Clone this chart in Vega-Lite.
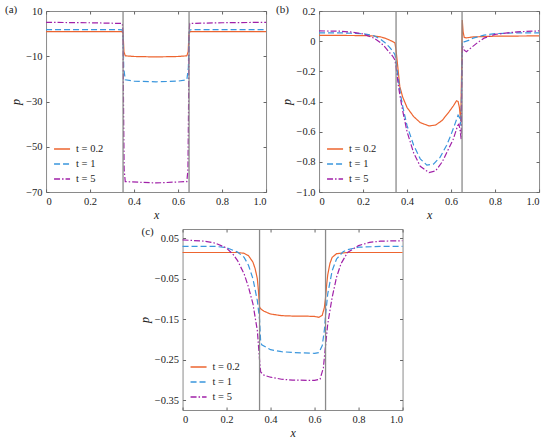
{
  "$schema": "https://vega.github.io/schema/vega-lite/v6.json",
  "padding": {"left": 4, "top": 3, "right": 0, "bottom": 0},
  "spacing": 4,
  "center": true,
  "resolve": {"scale": {"color": "independent", "strokeDash": "independent"}, "legend": {"color": "independent", "strokeDash": "independent"}},
  "datasets": {
    "a": [
      {"x": 0, "p": 0.9, "t": "t = 0.2"}, {"x": 0.3, "p": 0.9, "t": "t = 0.2"}, {"x": 0.345, "p": 0.85, "t": "t = 0.2"},
      {"x": 0.35, "p": 0.3, "t": "t = 0.2"}, {"x": 0.354, "p": -8, "t": "t = 0.2"}, {"x": 0.36, "p": -9.8, "t": "t = 0.2"},
      {"x": 0.4, "p": -10.1, "t": "t = 0.2"}, {"x": 0.5, "p": -10.3, "t": "t = 0.2"}, {"x": 0.6, "p": -10.1, "t": "t = 0.2"},
      {"x": 0.64, "p": -9.8, "t": "t = 0.2"}, {"x": 0.646, "p": -8, "t": "t = 0.2"}, {"x": 0.65, "p": 0.3, "t": "t = 0.2"},
      {"x": 0.655, "p": 0.85, "t": "t = 0.2"}, {"x": 0.7, "p": 0.9, "t": "t = 0.2"}, {"x": 1, "p": 0.9, "t": "t = 0.2"},

      {"x": 0, "p": 1.8, "t": "t = 1"}, {"x": 0.3, "p": 1.8, "t": "t = 1"}, {"x": 0.346, "p": 1.7, "t": "t = 1"},
      {"x": 0.35, "p": 0, "t": "t = 1"}, {"x": 0.353, "p": -15, "t": "t = 1"}, {"x": 0.36, "p": -20.4, "t": "t = 1"},
      {"x": 0.4, "p": -21, "t": "t = 1"}, {"x": 0.5, "p": -21.3, "t": "t = 1"}, {"x": 0.6, "p": -21, "t": "t = 1"},
      {"x": 0.64, "p": -20.4, "t": "t = 1"}, {"x": 0.647, "p": -15, "t": "t = 1"}, {"x": 0.65, "p": 0, "t": "t = 1"},
      {"x": 0.654, "p": 1.7, "t": "t = 1"}, {"x": 0.7, "p": 1.8, "t": "t = 1"}, {"x": 1, "p": 1.8, "t": "t = 1"},

      {"x": 0, "p": 5, "t": "t = 5"}, {"x": 0.2, "p": 4.8, "t": "t = 5"}, {"x": 0.347, "p": 4.5, "t": "t = 5"},
      {"x": 0.35, "p": 0, "t": "t = 5"}, {"x": 0.352, "p": -30, "t": "t = 5"}, {"x": 0.355, "p": -60, "t": "t = 5"},
      {"x": 0.36, "p": -65.4, "t": "t = 5"}, {"x": 0.5, "p": -66, "t": "t = 5"}, {"x": 0.64, "p": -65.4, "t": "t = 5"},
      {"x": 0.645, "p": -60, "t": "t = 5"}, {"x": 0.648, "p": -30, "t": "t = 5"}, {"x": 0.65, "p": 0, "t": "t = 5"},
      {"x": 0.653, "p": 4.5, "t": "t = 5"}, {"x": 0.8, "p": 4.8, "t": "t = 5"}, {"x": 1, "p": 5, "t": "t = 5"}
    ],
    "b": [
      {"x": 0, "p": 0.038, "t": "t = 0.2"}, {"x": 0.1, "p": 0.038, "t": "t = 0.2"}, {"x": 0.2, "p": 0.037, "t": "t = 0.2"},
      {"x": 0.25, "p": 0.034, "t": "t = 0.2"}, {"x": 0.28, "p": 0.028, "t": "t = 0.2"}, {"x": 0.3, "p": 0.02, "t": "t = 0.2"},
      {"x": 0.32, "p": 0.008, "t": "t = 0.2"}, {"x": 0.335, "p": -0.003, "t": "t = 0.2"}, {"x": 0.345, "p": -0.012, "t": "t = 0.2"},
      {"x": 0.35, "p": -0.06, "t": "t = 0.2"}, {"x": 0.355, "p": -0.13, "t": "t = 0.2"}, {"x": 0.36, "p": -0.2, "t": "t = 0.2"},
      {"x": 0.367, "p": -0.3, "t": "t = 0.2"}, {"x": 0.38, "p": -0.37, "t": "t = 0.2"}, {"x": 0.4, "p": -0.44, "t": "t = 0.2"},
      {"x": 0.43, "p": -0.5, "t": "t = 0.2"}, {"x": 0.46, "p": -0.54, "t": "t = 0.2"}, {"x": 0.5, "p": -0.562, "t": "t = 0.2"},
      {"x": 0.53, "p": -0.556, "t": "t = 0.2"}, {"x": 0.56, "p": -0.525, "t": "t = 0.2"}, {"x": 0.59, "p": -0.47, "t": "t = 0.2"},
      {"x": 0.61, "p": -0.43, "t": "t = 0.2"}, {"x": 0.625, "p": -0.395, "t": "t = 0.2"}, {"x": 0.632, "p": -0.4, "t": "t = 0.2"},
      {"x": 0.638, "p": -0.44, "t": "t = 0.2"}, {"x": 0.644, "p": -0.53, "t": "t = 0.2"}, {"x": 0.648, "p": -0.2, "t": "t = 0.2"},
      {"x": 0.651, "p": 0.14, "t": "t = 0.2"}, {"x": 0.655, "p": 0.06, "t": "t = 0.2"}, {"x": 0.66, "p": 0.025, "t": "t = 0.2"},
      {"x": 0.67, "p": 0.022, "t": "t = 0.2"}, {"x": 0.7, "p": 0.028, "t": "t = 0.2"}, {"x": 0.8, "p": 0.033, "t": "t = 0.2"},
      {"x": 1, "p": 0.035, "t": "t = 0.2"},

      {"x": 0, "p": 0.055, "t": "t = 1"}, {"x": 0.1, "p": 0.055, "t": "t = 1"}, {"x": 0.2, "p": 0.05, "t": "t = 1"},
      {"x": 0.25, "p": 0.036, "t": "t = 1"}, {"x": 0.28, "p": 0.012, "t": "t = 1"}, {"x": 0.3, "p": -0.01, "t": "t = 1"},
      {"x": 0.32, "p": -0.04, "t": "t = 1"}, {"x": 0.335, "p": -0.065, "t": "t = 1"}, {"x": 0.345, "p": -0.09, "t": "t = 1"},
      {"x": 0.35, "p": -0.13, "t": "t = 1"}, {"x": 0.355, "p": -0.19, "t": "t = 1"}, {"x": 0.36, "p": -0.25, "t": "t = 1"},
      {"x": 0.37, "p": -0.35, "t": "t = 1"}, {"x": 0.38, "p": -0.43, "t": "t = 1"}, {"x": 0.4, "p": -0.56, "t": "t = 1"},
      {"x": 0.43, "p": -0.69, "t": "t = 1"}, {"x": 0.46, "p": -0.78, "t": "t = 1"}, {"x": 0.49, "p": -0.822, "t": "t = 1"},
      {"x": 0.52, "p": -0.815, "t": "t = 1"}, {"x": 0.55, "p": -0.77, "t": "t = 1"}, {"x": 0.58, "p": -0.69, "t": "t = 1"},
      {"x": 0.6, "p": -0.62, "t": "t = 1"}, {"x": 0.62, "p": -0.54, "t": "t = 1"}, {"x": 0.632, "p": -0.49, "t": "t = 1"},
      {"x": 0.64, "p": -0.51, "t": "t = 1"}, {"x": 0.645, "p": -0.56, "t": "t = 1"}, {"x": 0.648, "p": -0.3, "t": "t = 1"},
      {"x": 0.651, "p": 0.0, "t": "t = 1"}, {"x": 0.66, "p": -0.005, "t": "t = 1"}, {"x": 0.68, "p": 0.005, "t": "t = 1"},
      {"x": 0.7, "p": 0.02, "t": "t = 1"}, {"x": 0.75, "p": 0.04, "t": "t = 1"}, {"x": 0.8, "p": 0.05, "t": "t = 1"},
      {"x": 0.9, "p": 0.055, "t": "t = 1"}, {"x": 1, "p": 0.055, "t": "t = 1"},

      {"x": 0, "p": 0.068, "t": "t = 5"}, {"x": 0.1, "p": 0.066, "t": "t = 5"}, {"x": 0.15, "p": 0.06, "t": "t = 5"},
      {"x": 0.2, "p": 0.048, "t": "t = 5"}, {"x": 0.25, "p": 0.02, "t": "t = 5"}, {"x": 0.28, "p": -0.01, "t": "t = 5"},
      {"x": 0.3, "p": -0.04, "t": "t = 5"}, {"x": 0.32, "p": -0.075, "t": "t = 5"}, {"x": 0.335, "p": -0.1, "t": "t = 5"},
      {"x": 0.345, "p": -0.125, "t": "t = 5"}, {"x": 0.35, "p": -0.17, "t": "t = 5"}, {"x": 0.355, "p": -0.23, "t": "t = 5"},
      {"x": 0.36, "p": -0.29, "t": "t = 5"}, {"x": 0.37, "p": -0.38, "t": "t = 5"}, {"x": 0.38, "p": -0.46, "t": "t = 5"},
      {"x": 0.4, "p": -0.6, "t": "t = 5"}, {"x": 0.43, "p": -0.74, "t": "t = 5"}, {"x": 0.46, "p": -0.83, "t": "t = 5"},
      {"x": 0.5, "p": -0.872, "t": "t = 5"}, {"x": 0.53, "p": -0.86, "t": "t = 5"}, {"x": 0.56, "p": -0.8, "t": "t = 5"},
      {"x": 0.59, "p": -0.71, "t": "t = 5"}, {"x": 0.61, "p": -0.65, "t": "t = 5"}, {"x": 0.63, "p": -0.56, "t": "t = 5"},
      {"x": 0.636, "p": -0.55, "t": "t = 5"}, {"x": 0.642, "p": -0.6, "t": "t = 5"}, {"x": 0.646, "p": -0.65, "t": "t = 5"},
      {"x": 0.649, "p": -0.3, "t": "t = 5"}, {"x": 0.652, "p": -0.03, "t": "t = 5"}, {"x": 0.66, "p": -0.06, "t": "t = 5"},
      {"x": 0.67, "p": -0.07, "t": "t = 5"}, {"x": 0.69, "p": -0.045, "t": "t = 5"}, {"x": 0.72, "p": -0.01, "t": "t = 5"},
      {"x": 0.75, "p": 0.02, "t": "t = 5"}, {"x": 0.8, "p": 0.045, "t": "t = 5"}, {"x": 0.9, "p": 0.062, "t": "t = 5"},
      {"x": 1, "p": 0.068, "t": "t = 5"}
    ],
    "c": [
      {"x": 0, "p": 0.015, "t": "t = 0.2"}, {"x": 0.25, "p": 0.015, "t": "t = 0.2"}, {"x": 0.28, "p": 0.013, "t": "t = 0.2"},
      {"x": 0.3, "p": 0.007, "t": "t = 0.2"}, {"x": 0.32, "p": -0.009, "t": "t = 0.2"}, {"x": 0.33, "p": -0.025, "t": "t = 0.2"},
      {"x": 0.34, "p": -0.05, "t": "t = 0.2"}, {"x": 0.345, "p": -0.08, "t": "t = 0.2"}, {"x": 0.35, "p": -0.12, "t": "t = 0.2"},
      {"x": 0.355, "p": -0.124, "t": "t = 0.2"}, {"x": 0.37, "p": -0.13, "t": "t = 0.2"}, {"x": 0.4, "p": -0.137, "t": "t = 0.2"},
      {"x": 0.45, "p": -0.141, "t": "t = 0.2"}, {"x": 0.5, "p": -0.142, "t": "t = 0.2"}, {"x": 0.55, "p": -0.142, "t": "t = 0.2"},
      {"x": 0.6, "p": -0.143, "t": "t = 0.2"}, {"x": 0.62, "p": -0.145, "t": "t = 0.2"}, {"x": 0.635, "p": -0.14, "t": "t = 0.2"},
      {"x": 0.645, "p": -0.12, "t": "t = 0.2"}, {"x": 0.65, "p": -0.096, "t": "t = 0.2"}, {"x": 0.655, "p": -0.065, "t": "t = 0.2"},
      {"x": 0.66, "p": -0.04, "t": "t = 0.2"}, {"x": 0.67, "p": -0.012, "t": "t = 0.2"}, {"x": 0.68, "p": 0.003, "t": "t = 0.2"},
      {"x": 0.7, "p": 0.012, "t": "t = 0.2"}, {"x": 0.75, "p": 0.015, "t": "t = 0.2"}, {"x": 1, "p": 0.015, "t": "t = 0.2"},

      {"x": 0, "p": 0.03, "t": "t = 1"}, {"x": 0.15, "p": 0.03, "t": "t = 1"}, {"x": 0.2, "p": 0.027, "t": "t = 1"},
      {"x": 0.25, "p": 0.016, "t": "t = 1"}, {"x": 0.28, "p": 0.003, "t": "t = 1"}, {"x": 0.3, "p": -0.017, "t": "t = 1"},
      {"x": 0.32, "p": -0.05, "t": "t = 1"}, {"x": 0.34, "p": -0.104, "t": "t = 1"}, {"x": 0.35, "p": -0.15, "t": "t = 1"},
      {"x": 0.355, "p": -0.205, "t": "t = 1"}, {"x": 0.36, "p": -0.213, "t": "t = 1"}, {"x": 0.4, "p": -0.225, "t": "t = 1"},
      {"x": 0.45, "p": -0.23, "t": "t = 1"}, {"x": 0.5, "p": -0.232, "t": "t = 1"}, {"x": 0.55, "p": -0.233, "t": "t = 1"},
      {"x": 0.6, "p": -0.234, "t": "t = 1"}, {"x": 0.62, "p": -0.232, "t": "t = 1"}, {"x": 0.635, "p": -0.215, "t": "t = 1"},
      {"x": 0.645, "p": -0.175, "t": "t = 1"}, {"x": 0.65, "p": -0.14, "t": "t = 1"}, {"x": 0.66, "p": -0.087, "t": "t = 1"},
      {"x": 0.68, "p": -0.03, "t": "t = 1"}, {"x": 0.7, "p": -0.001, "t": "t = 1"}, {"x": 0.73, "p": 0.017, "t": "t = 1"},
      {"x": 0.75, "p": 0.022, "t": "t = 1"}, {"x": 0.8, "p": 0.028, "t": "t = 1"}, {"x": 0.9, "p": 0.03, "t": "t = 1"},
      {"x": 1, "p": 0.03, "t": "t = 1"},

      {"x": 0, "p": 0.046, "t": "t = 5"}, {"x": 0.1, "p": 0.043, "t": "t = 5"}, {"x": 0.15, "p": 0.038, "t": "t = 5"},
      {"x": 0.2, "p": 0.026, "t": "t = 5"}, {"x": 0.23, "p": 0.01, "t": "t = 5"}, {"x": 0.25, "p": -0.005, "t": "t = 5"},
      {"x": 0.28, "p": -0.038, "t": "t = 5"}, {"x": 0.3, "p": -0.071, "t": "t = 5"}, {"x": 0.32, "p": -0.112, "t": "t = 5"},
      {"x": 0.34, "p": -0.178, "t": "t = 5"}, {"x": 0.35, "p": -0.25, "t": "t = 5"}, {"x": 0.355, "p": -0.28, "t": "t = 5"},
      {"x": 0.37, "p": -0.288, "t": "t = 5"}, {"x": 0.4, "p": -0.293, "t": "t = 5"}, {"x": 0.45, "p": -0.298, "t": "t = 5"},
      {"x": 0.5, "p": -0.3, "t": "t = 5"}, {"x": 0.6, "p": -0.301, "t": "t = 5"}, {"x": 0.625, "p": -0.298, "t": "t = 5"},
      {"x": 0.64, "p": -0.27, "t": "t = 5"}, {"x": 0.65, "p": -0.215, "t": "t = 5"}, {"x": 0.66, "p": -0.161, "t": "t = 5"},
      {"x": 0.68, "p": -0.096, "t": "t = 5"}, {"x": 0.7, "p": -0.046, "t": "t = 5"}, {"x": 0.72, "p": -0.013, "t": "t = 5"},
      {"x": 0.75, "p": 0.015, "t": "t = 5"}, {"x": 0.8, "p": 0.032, "t": "t = 5"}, {"x": 0.85, "p": 0.04, "t": "t = 5"},
      {"x": 0.9, "p": 0.043, "t": "t = 5"}, {"x": 1, "p": 0.044, "t": "t = 5"}
    ]
  },
  "vconcat": [
    {
      "spacing": 6,
      "resolve": {"scale": {"color": "independent", "strokeDash": "independent"}, "legend": {"color": "independent", "strokeDash": "independent"}},
      "hconcat": [
        {
          "width": 220,
          "height": 181,
          "title": {"text": "(a)", "anchor": "start", "frame": "group", "dx": -41, "dy": 15, "baseline": "middle", "offset": 0},
          "layer": [
            {
              "data": {"name": "a"},
              "mark": {"type": "line", "strokeWidth": 1.2},
              "encoding": {
                "x": {"field": "x", "type": "quantitative", "title": "x", "scale": {"domain": [0, 1], "nice": false},
                      "axis": {"orient": "bottom", "values": [0, 0.2, 0.4, 0.6, 0.8, 1], "labelExpr": "datum.value == 0 ? '0' : format(datum.value, '.1f')"}},
                "y": {"field": "p", "type": "quantitative", "title": "p", "scale": {"domain": [-70, 10], "nice": false, "zero": false},
                      "axis": {"orient": "left", "values": [10, -10, -30, -50, -70]}},
                "color": {"field": "t", "type": "nominal", "scale": {"domain": ["t = 0.2", "t = 1", "t = 5"], "range": ["#ED6530", "#3A96DD", "#A020A8"]}, "legend": {"title": null}},
                "strokeDash": {"field": "t", "type": "nominal", "scale": {"domain": ["t = 0.2", "t = 1", "t = 5"], "range": [[1, 0], [6, 3], [6, 2, 1.5, 2]]}, "legend": {"title": null}}
              }
            },
            {
              "data": {"values": [{"xv": 0.35, "lo": -70, "hi": 10}, {"xv": 0.65, "lo": -70, "hi": 10}]},
              "mark": {"type": "rule", "color": "#8a8a8a", "strokeWidth": 1.3},
              "encoding": {
                "x": {"field": "xv", "type": "quantitative", "axis": {"orient": "top", "labels": false, "title": null, "values": [0, 0.2, 0.4, 0.6, 0.8, 1]}},
                "y": {"field": "lo", "type": "quantitative", "axis": {"orient": "right", "labels": false, "title": null, "values": [10, -10, -30, -50, -70]}},
                "y2": {"field": "hi"}
              }
            }
          ],
          "resolve": {"axis": {"x": "independent", "y": "independent"}}
        },
        {
          "width": 220,
          "height": 181,
          "title": {"text": "(b)", "anchor": "start", "frame": "group", "dx": -43, "dy": 15, "baseline": "middle", "offset": 0},
          "layer": [
            {
              "data": {"name": "b"},
              "mark": {"type": "line", "strokeWidth": 1.2},
              "encoding": {
                "x": {"field": "x", "type": "quantitative", "title": "x", "scale": {"domain": [0, 1], "nice": false},
                      "axis": {"orient": "bottom", "values": [0, 0.2, 0.4, 0.6, 0.8, 1], "labelExpr": "datum.value == 0 ? '0' : format(datum.value, '.1f')"}},
                "y": {"field": "p", "type": "quantitative", "title": "p", "scale": {"domain": [-1, 0.2], "nice": false, "zero": false},
                      "axis": {"orient": "left", "values": [0.2, 0, -0.2, -0.4, -0.6, -0.8, -1], "labelExpr": "datum.value == 0 ? '0' : format(datum.value, '.1f')"}},
                "color": {"field": "t", "type": "nominal", "scale": {"domain": ["t = 0.2", "t = 1", "t = 5"], "range": ["#ED6530", "#3A96DD", "#A020A8"]}, "legend": {"title": null}},
                "strokeDash": {"field": "t", "type": "nominal", "scale": {"domain": ["t = 0.2", "t = 1", "t = 5"], "range": [[1, 0], [6, 3], [6, 2, 1.5, 2]]}, "legend": {"title": null}}
              }
            },
            {
              "data": {"values": [{"xv": 0.35, "lo": -1, "hi": 0.2}, {"xv": 0.65, "lo": -1, "hi": 0.2}]},
              "mark": {"type": "rule", "color": "#8a8a8a", "strokeWidth": 1.3},
              "encoding": {
                "x": {"field": "xv", "type": "quantitative", "axis": {"orient": "top", "labels": false, "title": null, "values": [0, 0.2, 0.4, 0.6, 0.8, 1]}},
                "y": {"field": "lo", "type": "quantitative", "axis": {"orient": "right", "labels": false, "title": null, "values": [0.2, 0, -0.2, -0.4, -0.6, -0.8, -1]}},
                "y2": {"field": "hi"}
              }
            }
          ],
          "resolve": {"axis": {"x": "independent", "y": "independent"}}
        }
      ]
    },
    {
      "width": 220,
      "height": 181,
      "title": {"text": "(c)", "anchor": "start", "frame": "group", "dx": -41, "dy": 15, "baseline": "middle", "offset": 0},
      "layer": [
        {
          "data": {"name": "c"},
          "mark": {"type": "line", "strokeWidth": 1.2},
          "encoding": {
            "x": {"field": "x", "type": "quantitative", "title": "x", "scale": {"domain": [0, 1], "nice": false},
                  "axis": {"orient": "bottom", "values": [0, 0.2, 0.4, 0.6, 0.8, 1], "labelExpr": "datum.value == 0 ? '0' : format(datum.value, '.1f')"}},
            "y": {"field": "p", "type": "quantitative", "title": "p", "scale": {"domain": [-0.374, 0.073], "nice": false, "zero": false},
                  "axis": {"orient": "left", "values": [0.05, -0.05, -0.15, -0.25, -0.35], "format": ".2f"}},
            "color": {"field": "t", "type": "nominal", "scale": {"domain": ["t = 0.2", "t = 1", "t = 5"], "range": ["#ED6530", "#3A96DD", "#A020A8"]}, "legend": {"title": null}},
            "strokeDash": {"field": "t", "type": "nominal", "scale": {"domain": ["t = 0.2", "t = 1", "t = 5"], "range": [[1, 0], [6, 3], [6, 2, 1.5, 2]]}, "legend": {"title": null}}
          }
        },
        {
          "data": {"values": [{"xv": 0.35, "lo": -0.374, "hi": 0.073}, {"xv": 0.65, "lo": -0.374, "hi": 0.073}]},
          "mark": {"type": "rule", "color": "#8a8a8a", "strokeWidth": 1.3},
          "encoding": {
            "x": {"field": "xv", "type": "quantitative", "axis": {"orient": "top", "labels": false, "title": null, "values": [0, 0.2, 0.4, 0.6, 0.8, 1]}},
            "y": {"field": "lo", "type": "quantitative", "axis": {"orient": "right", "labels": false, "title": null, "values": [0.05, -0.05, -0.15, -0.25, -0.35]}},
            "y2": {"field": "hi"}
          }
        }
      ],
      "resolve": {"axis": {"x": "independent", "y": "independent"}}
    }
  ],
  "config": {
    "font": "Liberation Serif",
    "view": {"stroke": "#8a8a8a", "strokeWidth": 1},
    "title": {"font": "Liberation Serif", "fontSize": 11, "fontWeight": "normal", "color": "#222"},
    "axis": {
      "domain": false,
      "grid": false,
      "ticks": true,
      "tickSize": -3,
      "tickColor": "#666",
      "labelPadding": 7,
      "labelFont": "Liberation Serif",
      "labelFontSize": 10.5,
      "labelColor": "#222",
      "titleFont": "Liberation Serif",
      "titleFontSize": 12,
      "titleFontStyle": "italic",
      "titleFontWeight": "normal",
      "titleColor": "#222",
      "titlePadding": 3
    },
    "legend": {
      "orient": "bottom-left",
      "offset": 7,
      "padding": 0,
      "symbolType": "stroke",
      "symbolSize": 256,
      "symbolStrokeWidth": 1.4,
      "labelFont": "Liberation Serif",
      "labelFontSize": 10.5,
      "labelColor": "#222",
      "labelOffset": 5,
      "rowPadding": 0
    }
  }
}
